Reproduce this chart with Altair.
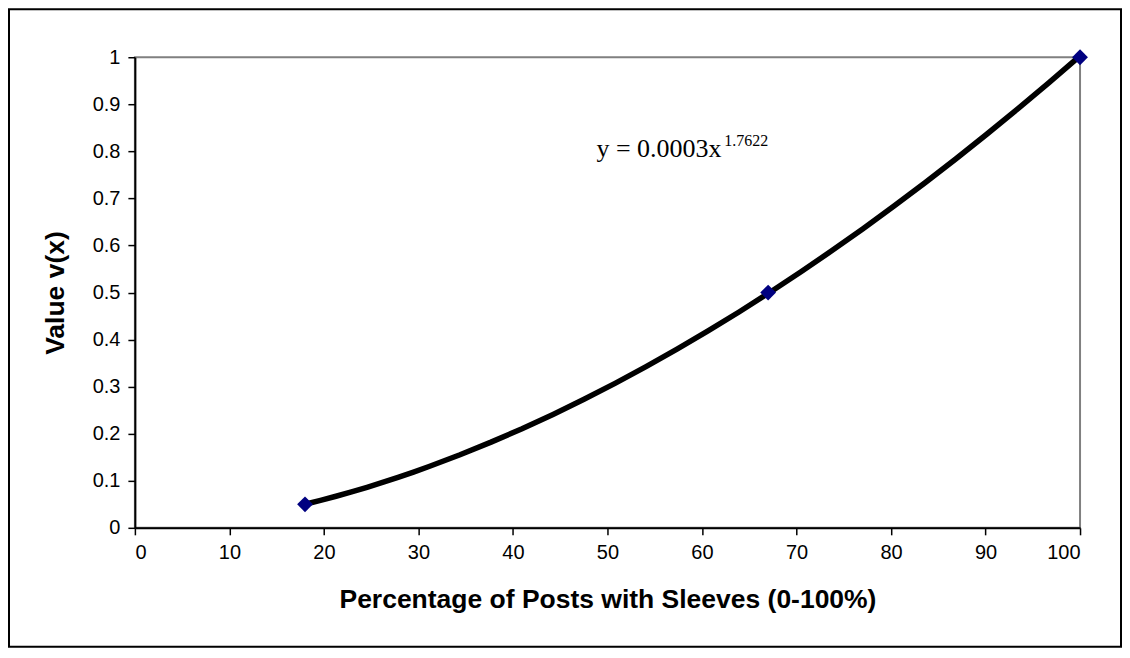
import altair as alt
import pandas as pd

# ---- data ----
pct = [18, 67, 100]
value = [0.05, 0.5, 1.0]
x_ticks = [0, 10, 20, 30, 40, 50, 60, 70, 80, 90, 100]
y_ticks = [0, 0.1, 0.2, 0.3, 0.4, 0.5, 0.6, 0.7, 0.8, 0.9, 1.0]
x_title = "Percentage of Posts with Sleeves (0-100%)"
y_title = "Value v(x)"
equation_main = "y = 0.0003x"
equation_exp = "1.7622"

df = pd.DataFrame({"pct": pct, "value": value})

W, H = 946, 471
PAD = {"left": 127, "top": 49, "right": 42, "bottom": 120}

xscale = alt.Scale(domain=[0, 100], nice=False, zero=False)
yscale = alt.Scale(domain=[0, 1], nice=False)

x_enc = alt.X(
    "pct:Q",
    scale=xscale,
    axis=alt.Axis(
        values=x_ticks,
        title=x_title,
        grid=False,
        tickSize=7,
        labelPadding=8,
        titleX=W / 2,
        titleY=80,
        titleBaseline="alphabetic",
        titleAlign="center",
    ),
)
y_enc = alt.Y(
    "value:Q",
    scale=yscale,
    axis=alt.Axis(
        values=y_ticks,
        format="~g",
        title=y_title,
        grid=False,
        tickSize=7,
        labelPadding=8,
        titleX=-71,
        titleY=H / 2,
        titleBaseline="alphabetic",
        titleAlign="center",
        titleAngle=270,
    ),
)

base = alt.Chart(df)

trend = base.transform_regression(
    "pct", "value", method="pow", extent=[18, 100]
).mark_line(color="black", strokeWidth=5.5).encode(x=x_enc, y=y_enc)

points = base.mark_point(
    shape="diamond", filled=True, size=250, color="#000080", opacity=1
).encode(x=alt.X("pct:Q", scale=xscale), y=alt.Y("value:Q", scale=yscale))

eq_main = alt.Chart(alt.Data(values=[{"t": equation_main}])).mark_text(
    align="left", baseline="alphabetic", font="Liberation Serif",
    fontSize=26, color="black"
).encode(x=alt.value(462), y=alt.value(100), text="t:N")

eq_exp = alt.Chart(alt.Data(values=[{"t": equation_exp}])).mark_text(
    align="left", baseline="alphabetic", font="Liberation Serif",
    fontSize=16, color="black"
).encode(x=alt.value(590), y=alt.value(89), text="t:N")

frame = alt.Chart(alt.Data(values=[{}])).mark_rect(
    fill="transparent", stroke="black", strokeWidth=2
).encode(x=alt.value(-PAD["left"] + 1), x2=alt.value(W + PAD["right"] - 1),
         y=alt.value(-PAD["top"] + 1), y2=alt.value(H + PAD["bottom"] - 1))

chart = alt.layer(
    trend, points, eq_main, eq_exp, frame
).properties(
    width=W, height=H, autosize=alt.AutoSizeParams(type="none"), padding=PAD,
    background="white",
).configure_view(
    stroke="#808080", strokeWidth=2
).configure_axis(
    domainColor="black", domainWidth=2, tickColor="black", tickWidth=1.5,
    labelFont="Liberation Sans", labelFontSize=20, labelColor="black",
    titleFont="Liberation Sans", titleFontSize=26.5, titleFontWeight="bold",
    titleColor="black",
)

chart.save("out.html", embed_options={"renderer": "svg", "actions": False})
